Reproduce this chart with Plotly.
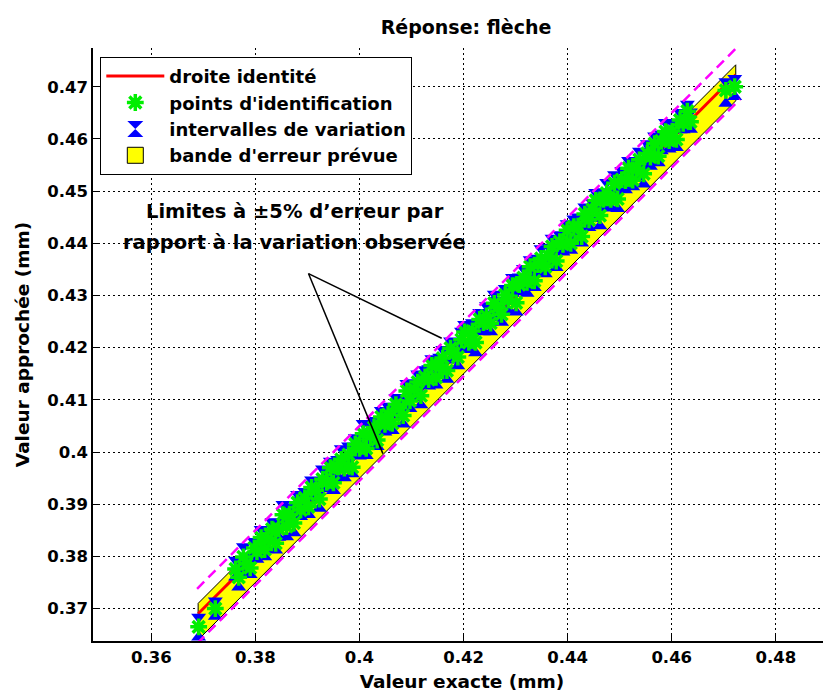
import plotly.graph_objects as go

# ---------------- data ----------------
x_exact = [
    0.3691, 0.3723,
    0.3762, 0.3768, 0.3777, 0.3783, 0.3790, 0.3798, 0.3803, 0.3811, 0.3818, 0.3824,
    0.3832, 0.3839, 0.3845, 0.3853, 0.3860, 0.3866, 0.3874, 0.3881, 0.3887, 0.3895,
    0.3902, 0.3908, 0.3916, 0.3923, 0.3929, 0.3937, 0.3944, 0.3950, 0.3958, 0.3965,
    0.3971, 0.3979, 0.3986, 0.3992, 0.4000, 0.4007, 0.4013, 0.4021, 0.4028, 0.4034,
    0.4042, 0.4049, 0.4055, 0.4063, 0.4070, 0.4076, 0.4084, 0.4091, 0.4097, 0.4105,
    0.4112, 0.4118, 0.4126, 0.4133, 0.4139, 0.4147, 0.4154, 0.4160, 0.4168, 0.4175,
    0.4181, 0.4189, 0.4196, 0.4202, 0.4210, 0.4217, 0.4223, 0.4231, 0.4238, 0.4244,
    0.4252, 0.4259, 0.4265, 0.4273, 0.4280, 0.4286, 0.4294, 0.4301, 0.4307, 0.4315,
    0.4322, 0.4328, 0.4336, 0.4343, 0.4349, 0.4357, 0.4364, 0.4370, 0.4378, 0.4385,
    0.4391, 0.4399, 0.4406, 0.4412, 0.4420, 0.4427, 0.4433, 0.4441, 0.4448, 0.4454,
    0.4462, 0.4469, 0.4475, 0.4483, 0.4490, 0.4496, 0.4504, 0.4511, 0.4517, 0.4525,
    0.4532, 0.4538, 0.4546, 0.4553, 0.4559, 0.4567, 0.4574, 0.4580, 0.4588, 0.4595,
    0.4601, 0.4609, 0.4616, 0.4622, 0.4630, 0.4636,
    0.4704, 0.4721,
]
y_approx = [
    0.3665, 0.3700,
    0.3776, 0.3760, 0.3799, 0.3786, 0.3778, 0.3816, 0.3809, 0.3836, 0.3813, 0.3834,
    0.3852, 0.3825, 0.3853, 0.3880, 0.3857, 0.3881, 0.3864, 0.3903, 0.3889, 0.3912,
    0.3895, 0.3932, 0.3927, 0.3910, 0.3948, 0.3942, 0.3970, 0.3941, 0.3971, 0.3986,
    0.3969, 0.3995, 0.3971, 0.4015, 0.4007, 0.4035, 0.4007, 0.4033, 0.4047, 0.4023,
    0.4067, 0.4053, 0.4072, 0.4055, 0.4091, 0.4085, 0.4070, 0.4117, 0.4098, 0.4120,
    0.4134, 0.4108, 0.4144, 0.4139, 0.4166, 0.4143, 0.4167, 0.4180, 0.4156, 0.4199,
    0.4189, 0.4182, 0.4215, 0.4230, 0.4210, 0.4232, 0.4210, 0.4254, 0.4248, 0.4261,
    0.4247, 0.4285, 0.4277, 0.4264, 0.4301, 0.4291, 0.4319, 0.4286, 0.4321, 0.4334,
    0.4325, 0.4355, 0.4328, 0.4359, 0.4371, 0.4355, 0.4375, 0.4394, 0.4366, 0.4403,
    0.4398, 0.4425, 0.4400, 0.4432, 0.4433, 0.4413, 0.4456, 0.4445, 0.4465, 0.4482,
    0.4453, 0.4484, 0.4496, 0.4484, 0.4515, 0.4485, 0.4522, 0.4520, 0.4544, 0.4521,
    0.4544, 0.4560, 0.4533, 0.4572, 0.4565, 0.4591, 0.4567, 0.4596, 0.4614, 0.4597,
    0.4615, 0.4599, 0.4636, 0.4630, 0.4653, 0.4633,
    0.4693, 0.4700,
]
err_up = [
    0.0019, 0.0015,
    0.0017, 0.0014, 0.0020, 0.0015, 0.0019, 0.0013, 0.0018, 0.0016, 0.0021, 0.0014,
    0.0015, 0.0019, 0.0013, 0.0020, 0.0017, 0.0014, 0.0021, 0.0016, 0.0018, 0.0013,
    0.0019, 0.0015, 0.0017, 0.0014, 0.0020, 0.0016, 0.0013, 0.0018, 0.0015, 0.0021,
    0.0014, 0.0017, 0.0019, 0.0013, 0.0016, 0.0020, 0.0015, 0.0018, 0.0014, 0.0017,
    0.0013, 0.0021, 0.0016, 0.0019, 0.0014, 0.0017, 0.0020, 0.0015, 0.0018, 0.0013,
    0.0016, 0.0019, 0.0014, 0.0021, 0.0013, 0.0018, 0.0015, 0.0017, 0.0020, 0.0014,
    0.0018, 0.0013, 0.0017, 0.0015, 0.0021, 0.0016, 0.0019, 0.0014, 0.0017, 0.0020,
    0.0015, 0.0018, 0.0014, 0.0019, 0.0013, 0.0017, 0.0016, 0.0021, 0.0015, 0.0018,
    0.0020, 0.0014, 0.0017, 0.0013, 0.0019, 0.0015, 0.0018, 0.0016, 0.0021, 0.0014,
    0.0016, 0.0013, 0.0019, 0.0015, 0.0018, 0.0020, 0.0014, 0.0017, 0.0013, 0.0016,
    0.0019, 0.0015, 0.0021, 0.0014, 0.0017, 0.0013, 0.0018, 0.0016, 0.0015, 0.0020,
    0.0014, 0.0017, 0.0013, 0.0019, 0.0016, 0.0015, 0.0021, 0.0014, 0.0018, 0.0013,
    0.0017, 0.0020, 0.0015, 0.0016, 0.0014, 0.0019,
    0.0017, 0.0016,
]
err_down = [
    0.0020, 0.0015,
    0.0016, 0.0019, 0.0014, 0.0018, 0.0013, 0.0020, 0.0015, 0.0017, 0.0014, 0.0021,
    0.0018, 0.0013, 0.0017, 0.0015, 0.0020, 0.0014, 0.0019, 0.0016, 0.0013, 0.0017,
    0.0015, 0.0020, 0.0014, 0.0018, 0.0016, 0.0013, 0.0021, 0.0015, 0.0017, 0.0014,
    0.0019, 0.0016, 0.0013, 0.0020, 0.0015, 0.0018, 0.0014, 0.0017, 0.0021, 0.0013,
    0.0016, 0.0015, 0.0019, 0.0014, 0.0018, 0.0013, 0.0017, 0.0020, 0.0015, 0.0016,
    0.0014, 0.0018, 0.0016, 0.0013, 0.0020, 0.0015, 0.0019, 0.0014, 0.0017, 0.0021,
    0.0013, 0.0017, 0.0015, 0.0019, 0.0014, 0.0016, 0.0020, 0.0013, 0.0018, 0.0015,
    0.0017, 0.0014, 0.0020, 0.0016, 0.0013, 0.0019, 0.0015, 0.0018, 0.0014, 0.0016,
    0.0021, 0.0015, 0.0013, 0.0017, 0.0019, 0.0014, 0.0016, 0.0020, 0.0013, 0.0018,
    0.0015, 0.0017, 0.0014, 0.0021, 0.0016, 0.0013, 0.0019, 0.0015, 0.0018, 0.0014,
    0.0020, 0.0016, 0.0013, 0.0017, 0.0015, 0.0019, 0.0014, 0.0018, 0.0016, 0.0013,
    0.0017, 0.0015, 0.0020, 0.0014, 0.0018, 0.0016, 0.0013, 0.0019, 0.0015, 0.0017,
    0.0014, 0.0016, 0.0019, 0.0013, 0.0017, 0.0015,
    0.0025, 0.0019,
]

# predicted error band (polygon), identity line, +/-5% limit lines
band_x = [0.3690, 0.4723, 0.4723, 0.3690, 0.3690]
band_y = [0.3710, 0.4742, 0.4673, 0.3640, 0.3710]
ident_x = [0.3690, 0.4723]
ident_y = [0.3690, 0.4723]
limit_x = [0.3688, 0.4731]
limit_upper_y = [0.3738, 0.4781]
limit_lower_y = [0.3633, 0.4676]

x_tick_vals = [0.36, 0.38, 0.40, 0.42, 0.44, 0.46, 0.48]
x_tick_text = ["0.36", "0.38", "0.4", "0.42", "0.44", "0.46", "0.48"]
y_tick_vals = [0.37, 0.38, 0.39, 0.40, 0.41, 0.42, 0.43, 0.44, 0.45, 0.46, 0.47]
y_tick_text = ["0.37", "0.38", "0.39", "0.4", "0.41", "0.42", "0.43", "0.44", "0.45", "0.46", "0.47"]

# annotation: two text lines and the two pointer lines
note_lines = ["Limites à ±5% d’erreur par", "rapport à la variation observée"]
note_x = 0.3876
note_y = [0.4460, 0.4402]
pointer_start = (0.3902, 0.4342)
pointer_tips = [(0.4158, 0.4218), (0.4045, 0.3997)]

FONT = "DejaVu Sans, Verdana, sans-serif"
BLUE = "#0000ff"
GREEN = "#00ee00"

# the page body has an 8px margin: the figure is sized/positioned to fill the window
W, H = 823, 689

fig = go.Figure()

# yellow band
fig.add_trace(go.Scatter(
    x=band_x, y=band_y, mode="lines", fill="toself", fillcolor="#ffff00",
    line=dict(color="black", width=1), showlegend=False, hoverinfo="skip"))

# identity line
fig.add_trace(go.Scatter(
    x=ident_x, y=ident_y, mode="lines", line=dict(color="#ff0000", width=3),
    name="droite identité", legendrank=1))

# intervals: vertical bars
fig.add_trace(go.Scatter(
    x=x_exact, y=y_approx, mode="markers", marker=dict(size=1, color="rgba(0,0,0,0)"),
    error_y=dict(type="data", array=err_up, arrayminus=err_down, symmetric=False,
                 color=BLUE, thickness=2.5, width=0),
    showlegend=False, hoverinfo="skip"))
top_y = [y + e for y, e in zip(y_approx, err_up)]
bot_y = [y - e for y, e in zip(y_approx, err_down)]
fig.add_trace(go.Scatter(
    x=x_exact, y=top_y, mode="markers",
    marker=dict(symbol="triangle-down", size=13, color=BLUE),
    showlegend=False, hoverinfo="skip"))
fig.add_trace(go.Scatter(
    x=x_exact, y=bot_y, mode="markers",
    marker=dict(symbol="triangle-up", size=13, color=BLUE),
    showlegend=False, hoverinfo="skip"))
# legend entry for intervals
fig.add_trace(go.Scatter(
    x=[None], y=[None], mode="markers",
    marker=dict(symbol="hourglass", size=16, color=BLUE),
    name="intervalles de variation", legendrank=3))
# legend entry for band
fig.add_trace(go.Scatter(
    x=[None], y=[None], mode="markers",
    marker=dict(symbol="square", size=18, color="#ffff00",
                line=dict(color="black", width=1)),
    name="bande d'erreur prévue", legendrank=4))

# identification points
fig.add_trace(go.Scatter(
    x=x_exact, y=y_approx, mode="markers",
    marker=dict(symbol="asterisk-open", size=14, color=GREEN,
                line=dict(color=GREEN, width=3.5)),
    name="points d'identification", legendrank=2))

# +/-5% limit lines
for ly in (limit_upper_y, limit_lower_y):
    fig.add_trace(go.Scatter(
        x=limit_x, y=ly, mode="lines",
        line=dict(color="#ff00ff", width=2.5, dash="10px,6px"),
        showlegend=False, hoverinfo="skip"))

shapes = []
for tx, ty in pointer_tips:
    shapes.append(dict(type="line", xref="x", yref="y",
                       x0=pointer_start[0], y0=pointer_start[1], x1=tx, y1=ty,
                       line=dict(color="black", width=1.5)))

annotations = []
for txt, yy in zip(note_lines, note_y):
    annotations.append(dict(x=note_x, y=yy, xref="x", yref="y", text=txt,
                            showarrow=False, xanchor="center", yanchor="middle",
                            font=dict(family=FONT, size=19.5, color="black", weight="bold")))

axis_common = dict(
    showgrid=True, gridcolor="black", gridwidth=1, griddash="2px,3px",
    showline=True, linecolor="black", linewidth=1.5, mirror=False,
    ticks="inside", ticklen=6, tickcolor="black", zeroline=False,
    automargin=False,
    tickfont=dict(family=FONT, size=16.5, color="black", weight="bold"),
)

fig.update_layout(
    width=W, height=H,
    margin=dict(l=85, r=0, t=40, b=56, pad=0),
    plot_bgcolor="white", paper_bgcolor="white",
    font=dict(family=FONT, color="black"),
    title=dict(text="Réponse: flèche", x=458 / W, xanchor="center",
               y=1 - 19 / H, yanchor="middle", yref="container", automargin=False,
               font=dict(family=FONT, size=19, color="black", weight="bold")),
    xaxis=dict(range=[0.3488, 0.4906], tickvals=x_tick_vals, ticktext=x_tick_text,
               title=dict(text="Valeur exacte (mm)", standoff=10,
                          font=dict(family=FONT, size=18.5, color="black", weight="bold")),
               **axis_common),
    yaxis=dict(range=[0.36379, 0.47742], tickvals=y_tick_vals, ticktext=y_tick_text,
               title=dict(text="Valeur approchée (mm)", standoff=13,
                          font=dict(family=FONT, size=18.5, color="black", weight="bold")),
               **axis_common),
    legend=dict(x=0.0099, y=0.985, xanchor="left", yanchor="top",
                bgcolor="white", bordercolor="black", borderwidth=1,
                font=dict(family=FONT, size=18, color="black", weight="bold"),
                itemwidth=58, tracegroupgap=0),
    shapes=shapes,
    annotations=annotations,
    showlegend=True,
)

fig.write_html("out.html")
